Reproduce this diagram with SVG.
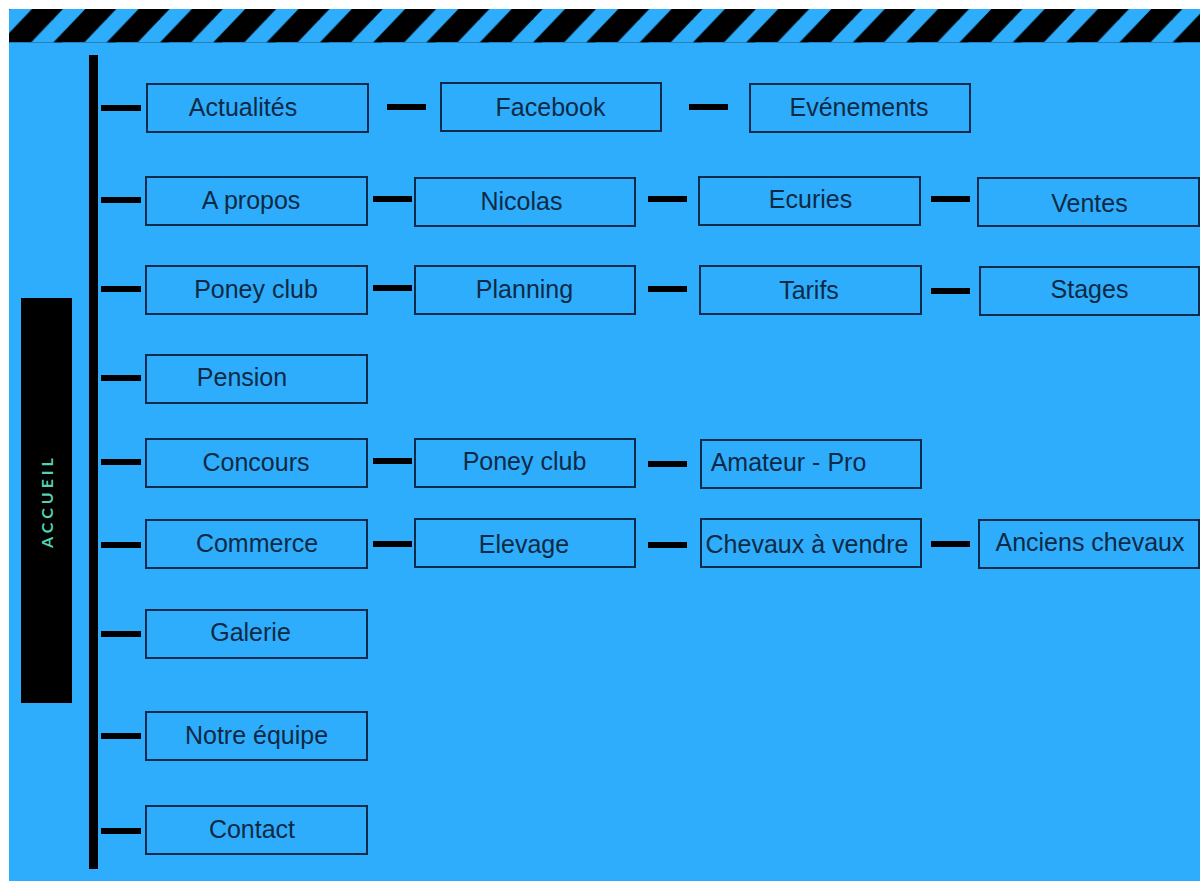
<svg xmlns="http://www.w3.org/2000/svg" width="1200" height="883" viewBox="0 0 1200 883">
<defs>
<style>
.bx{fill:#2fadfd;stroke:#0c2b4a;stroke-width:2}
.t{font-family:"Liberation Sans",Arial,sans-serif;font-size:25px;fill:#0d2a45;text-anchor:middle}
.d{fill:#000}
</style>
<pattern id="stripes" x="0" y="9" width="53.3" height="33.5" patternUnits="userSpaceOnUse">
<polygon points="0,33.5 31,33.5 63,0 32,0" fill="#000"/>
<polygon points="-53.3,33.5 -22.3,33.5 9.7,0 -21.3,0" fill="#000"/>
</pattern>
</defs>
<rect x="0" y="0" width="1200" height="883" fill="#fff"/>
<rect x="9" y="9" width="1191" height="872" fill="#2fadfd"/>
<rect x="9" y="9" width="1191" height="33.5" fill="url(#stripes)"/>
<g id="accueil">
<rect x="21" y="298" width="51" height="405" fill="#000"/>
<text x="0" y="0" transform="translate(53,501) rotate(-90)" font-family="Lato,'Open Sans',sans-serif" font-size="16" font-weight="bold" letter-spacing="4" fill="#55d0b0" text-anchor="middle">ACCUEIL</text>
</g>
<g id="connectors">
<rect class="d" x="89" y="55" width="9" height="814"/>
<rect class="d" x="101" y="105" width="40" height="6"/>
<rect class="d" x="101" y="197" width="40" height="6"/>
<rect class="d" x="101" y="286" width="40" height="6"/>
<rect class="d" x="101" y="375" width="40" height="6"/>
<rect class="d" x="101" y="459" width="40" height="6"/>
<rect class="d" x="101" y="542" width="40" height="6"/>
<rect class="d" x="101" y="631" width="40" height="6"/>
<rect class="d" x="101" y="733" width="40" height="6"/>
<rect class="d" x="101" y="828" width="40" height="6"/>
<rect class="d" x="387" y="104" width="39" height="6"/>
<rect class="d" x="689" y="104" width="39" height="6"/>
<rect class="d" x="373" y="196" width="39" height="6"/>
<rect class="d" x="648" y="196" width="39" height="6"/>
<rect class="d" x="931" y="196" width="39" height="6"/>
<rect class="d" x="373" y="285" width="39" height="6"/>
<rect class="d" x="648" y="286" width="39" height="6"/>
<rect class="d" x="931" y="288" width="39" height="6"/>
<rect class="d" x="373" y="458" width="39" height="6"/>
<rect class="d" x="648" y="461" width="39" height="6"/>
<rect class="d" x="373" y="541" width="39" height="6"/>
<rect class="d" x="648" y="542" width="39" height="6"/>
<rect class="d" x="931" y="541" width="39" height="6"/>
</g>
<g id="actualites"><rect class="bx" x="147" y="84" width="221" height="48"/><text class="t" x="243" y="116">Actualités</text></g>
<g id="facebook"><rect class="bx" x="441" y="83" width="220" height="48"/><text class="t" x="550.5" y="116">Facebook</text></g>
<g id="evenements"><rect class="bx" x="750" y="84" width="220" height="48"/><text class="t" x="859" y="116">Evénements</text></g>
<g id="apropos"><rect class="bx" x="146" y="177" width="221" height="48"/><text class="t" x="251" y="209">A propos</text></g>
<g id="nicolas"><rect class="bx" x="415" y="178" width="220" height="48"/><text class="t" x="521.5" y="210">Nicolas</text></g>
<g id="ecuries"><rect class="bx" x="699" y="177" width="221" height="48"/><text class="t" x="810.5" y="208">Ecuries</text></g>
<g id="ventes"><rect class="bx" x="978" y="178" width="221" height="48"/><text class="t" x="1089.5" y="212">Ventes</text></g>
<g id="poneyclub"><rect class="bx" x="146" y="266" width="221" height="48"/><text class="t" x="256" y="298">Poney club</text></g>
<g id="planning"><rect class="bx" x="415" y="266" width="220" height="48"/><text class="t" x="524.5" y="298">Planning</text></g>
<g id="tarifs"><rect class="bx" x="700" y="266" width="221" height="48"/><text class="t" x="809" y="299">Tarifs</text></g>
<g id="stages"><rect class="bx" x="980" y="267" width="219" height="48"/><text class="t" x="1089.5" y="298">Stages</text></g>
<g id="pension"><rect class="bx" x="146" y="355" width="221" height="48"/><text class="t" x="242" y="386">Pension</text></g>
<g id="concours"><rect class="bx" x="146" y="439" width="221" height="48"/><text class="t" x="256" y="471">Concours</text></g>
<g id="concours-poneyclub"><rect class="bx" x="415" y="439" width="220" height="48"/><text class="t" x="524.5" y="470">Poney club</text></g>
<g id="amateurpro"><rect class="bx" x="701" y="440" width="220" height="48"/><text class="t" x="788.5" y="471">Amateur - Pro</text></g>
<g id="commerce"><rect class="bx" x="146" y="520" width="221" height="48"/><text class="t" x="257" y="552">Commerce</text></g>
<g id="elevage"><rect class="bx" x="415" y="519" width="220" height="48"/><text class="t" x="524" y="553">Elevage</text></g>
<g id="chevauxavendre"><rect class="bx" x="701" y="519" width="220" height="48"/><text class="t" x="807" y="553">Chevaux à vendre</text></g>
<g id="ancienschevaux"><rect class="bx" x="979" y="520" width="220" height="48"/><text class="t" x="1090" y="551">Anciens chevaux</text></g>
<g id="galerie"><rect class="bx" x="146" y="610" width="221" height="48"/><text class="t" x="250.5" y="641">Galerie</text></g>
<g id="notreequipe"><rect class="bx" x="146" y="712" width="221" height="48"/><text class="t" x="256.5" y="744">Notre équipe</text></g>
<g id="contact"><rect class="bx" x="146" y="806" width="221" height="48"/><text class="t" x="252" y="838">Contact</text></g>
</svg>
